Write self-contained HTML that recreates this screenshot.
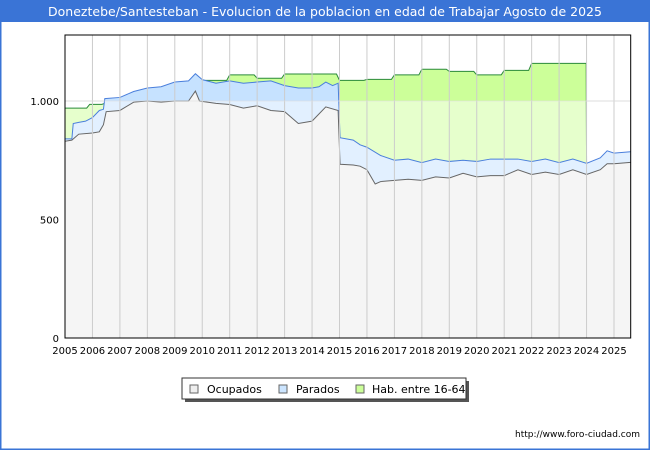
<!DOCTYPE html>
<html><head><meta charset="utf-8"><style>
body{margin:0;width:650px;height:450px;overflow:hidden;background:#fff;font-family:"DejaVu Sans","Liberation Sans",sans-serif}
</style></head><body>
<svg id="c" width="650" height="450" xmlns="http://www.w3.org/2000/svg">
<rect x="0" y="0" width="650" height="450" fill="#fff" stroke="#3a74d6" stroke-width="3"/>
<rect x="0" y="0" width="650" height="22" fill="#3a74d6"/>
<text x="325" y="16" text-anchor="middle" font-size="12.5" fill="#fff">Doneztebe/Santesteban - Evolucion de la poblacion en edad de Trabajar Agosto de 2025</text>
<g id="plot"></g>
<g>
<rect x="185" y="381" width="284" height="21" fill="#555"/>
<rect x="182" y="378" width="284" height="21" fill="#fff" stroke="#333"/>
<rect x="190" y="385" width="8" height="8" fill="#eee" stroke="#666"/>
<text x="207" y="393" font-size="11" fill="#000">Ocupados</text>
<rect x="279" y="385" width="8" height="8" fill="#cce5ff" stroke="#666"/>
<text x="296" y="393" font-size="11" fill="#000">Parados</text>
<rect x="356" y="385" width="8" height="8" fill="#ccff99" stroke="#666"/>
<text x="372" y="393" font-size="11" fill="#000">Hab. entre 16-64</text>
</g>
<text x="640" y="437" text-anchor="end" font-size="9" fill="#000">http://www.foro-ciudad.com</text>
</svg>
<script>
const habT=[2005,2005.9,2006.45,2007,2008,2009,2010,2011,2012,2013,2015,2016,2017,2018,2019,2020,2021,2022,2023.95];
const habV=[970,986,990,990,990,990,1087,1110,1096,1114,1087,1091,1110,1134,1125,1110,1129,1159,1159];
const totT=[2005,2005.25,2005.3,2005.5,2005.75,2006,2006.25,2006.4,2006.45,2007,2007.5,2008,2008.5,2009,2009.5,2009.75,2010,2010.5,2011,2011.5,2012,2012.5,2013,2013.5,2014,2014.25,2014.5,2014.75,2014.95,2015.02,2015.5,2015.75,2016,2016.5,2017,2017.5,2018,2018.5,2019,2019.5,2020,2020.5,2021,2021.5,2022,2022.5,2023,2023.5,2024,2024.5,2024.75,2025,2025.6];
const totV=[840,840,905,910,915,930,960,965,1010,1015,1040,1055,1060,1080,1085,1115,1090,1075,1085,1075,1080,1085,1065,1055,1055,1060,1080,1065,1075,845,835,815,805,770,750,755,740,755,745,750,745,755,755,755,745,755,740,755,737,760,790,780,786];
const ocuT=[2005,2005.25,2005.5,2006,2006.25,2006.4,2006.5,2007,2007.5,2008,2008.5,2009,2009.5,2009.75,2009.9,2010.5,2011,2011.5,2012,2012.5,2013,2013.5,2014,2014.5,2014.95,2015.02,2015.5,2015.75,2016,2016.3,2016.5,2017,2017.5,2018,2018.5,2019,2019.5,2020,2020.5,2021,2021.5,2022,2022.5,2023,2023.5,2024,2024.5,2024.75,2025,2025.6];
const ocuV=[830,835,860,865,870,900,955,960,995,1000,995,1000,1000,1042,1000,990,985,970,980,960,955,905,915,975,960,733,730,725,710,650,660,665,670,665,680,675,695,680,685,685,710,690,700,690,710,690,710,735,735,741];
const yTicks=[0,500,1000];
const xYears=[2005,2006,2007,2008,2009,2010,2011,2012,2013,2014,2015,2016,2017,2018,2019,2020,2021,2022,2023,2024,2025];
const L=65,R=630.7,T=35,B=338,X0=2005,PX=27.45,YS=0.237;
const sx=t=>L+(t-X0)*PX, sy=v=>B-v*YS;
const NS='http://www.w3.org/2000/svg';
const g=document.getElementById('plot');
function el(tag,attrs,parent){const e=document.createElementNS(NS,tag);for(const k in attrs)e.setAttribute(k,attrs[k]);(parent||g).appendChild(e);return e;}
const defs=el('defs',{});
const cpA=el('clipPath',{id:'above'},defs);el('rect',{x:L,y:T,width:R-L,height:sy(1000)-T},cpA);
const cpB=el('clipPath',{id:'below'},defs);el('rect',{x:L,y:sy(1000),width:R-L,height:B-sy(1000)},cpB);
const cpP=el('clipPath',{id:'plotclip'},defs);el('rect',{x:L,y:T,width:R-L,height:B-T},cpP);
const bg=el('rect',{x:L,y:T,width:R-L,height:B-T,fill:'#fff'});

yTicks.forEach(v=>{const l=el('line',{x1:L,x2:R,y1:sy(v),y2:sy(v),stroke:'#ddd'});
const t=el('text',{x:L-6,y:sy(v)+4,'text-anchor':'end','font-size':10,fill:'#000'});t.textContent=v===1000?'1.000':String(v);});
let habD='';for(let i=0;i<habT.length;i++){const x1=sx(habT[i]),x2=i<habT.length-1?sx(habT[i+1])-3:sx(habT[i])+1;habD+=(i?'L':'M')+x1+','+sy(habV[i])+'L'+x2+','+sy(habV[i]);}
habD+='L'+(sx(2024))+','+sy(737);
const habArea=habD+'L'+sx(2024)+','+B+'L'+L+','+B+'Z';
const totLine=totT.map((t,i)=>(i?'L':'M')+sx(t)+','+sy(totV[i])).join('');
const ocuLine=ocuT.map((t,i)=>(i?'L':'M')+sx(t)+','+sy(ocuV[i])).join('');
const totArea=totLine+'L'+sx(totT[totT.length-1])+','+B+'L'+L+','+B+'Z';
const ocuArea=ocuLine+'L'+sx(ocuT[ocuT.length-1])+','+B+'L'+L+','+B+'Z';
const layers=[[habArea,'#ccff99','#e6ffcc','hab',habD,'#2a8a3a'],[totArea,'#c6e2ff','#e2f0ff','parados',totLine,'#4a7fdc'],[ocuArea,'#f5f5f5','#f5f5f5','ocupados',ocuLine,'#666']];
layers.forEach(ly=>{
 const a=el('path',{d:ly[0],fill:ly[1],'clip-path':'url(#above)'});
 const b=el('path',{d:ly[0],fill:ly[2],'clip-path':'url(#below)'});
 const p=el('path',{d:ly[4],fill:'none',stroke:ly[5],'stroke-width':1,'clip-path':'url(#plotclip)'});
});
xYears.forEach(y=>{if(y>X0){const l=el('line',{x1:sx(y),x2:sx(y),y1:T,y2:B,stroke:'#ccc'});}
 const t=el('text',{x:sx(y),y:B+16,'text-anchor':'middle','font-size':10,fill:'#000'});t.textContent=String(y);});
const gl=el('line',{x1:L,x2:R,y1:sy(1000),y2:sy(1000),stroke:'#ddd','stroke-opacity':0.6});
const fr=el('rect',{x:L,y:T,width:R-L,height:B-T,fill:'none',stroke:'#000'});

</script>
</body></html>
